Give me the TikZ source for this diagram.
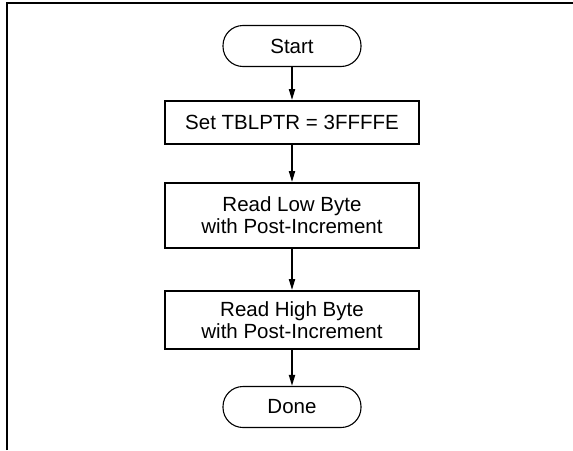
\documentclass[tikz,border=0pt]{standalone}
\usepackage{fontspec}
\setmainfont{Liberation Sans}
\usetikzlibrary{arrows.meta}
\begin{document}
\begin{tikzpicture}[x=1pt,y=-1pt,
  every node/.style={font=\fontsize{20.5}{22}\selectfont, inner sep=0pt, align=center},
  procbox/.style={draw, line width=1.8pt, minimum width=254pt},
  termbox/.style={draw, line width=1.1pt, rounded corners=20pt, minimum width=138pt, minimum height=41pt},
  flow/.style={line width=1.8pt, -{Triangle[length=11pt,width=6pt]}},
  framestyle/.style={line width=2pt}]
\useasboundingbox (0,0) rectangle (573,450);
\coordinate (ftl) at (7,3);
\coordinate (ftr) at (573,3);
\coordinate (fbl) at (7,450);
\draw[framestyle] (fbl) -- (ftl) -- (ftr);
\node[termbox] (start) at (292,46) {Start};
\node[procbox, minimum height=43pt] (set) at (292,122.5) {Set TBLPTR = 3FFFFE};
\node[procbox, minimum height=65pt] (low) at (292,215.5) {Read Low Byte\\with Post-Increment};
\node[procbox, minimum height=58pt] (high) at (292,320) {Read High Byte\\with Post-Increment};
\node[termbox] (done) at (292,407) {Done};
\draw[flow] (start) -- (set);
\draw[flow] (set) -- (low);
\draw[flow] (low) -- (high);
\draw[flow] (high) -- (done);
\end{tikzpicture}
\end{document}
